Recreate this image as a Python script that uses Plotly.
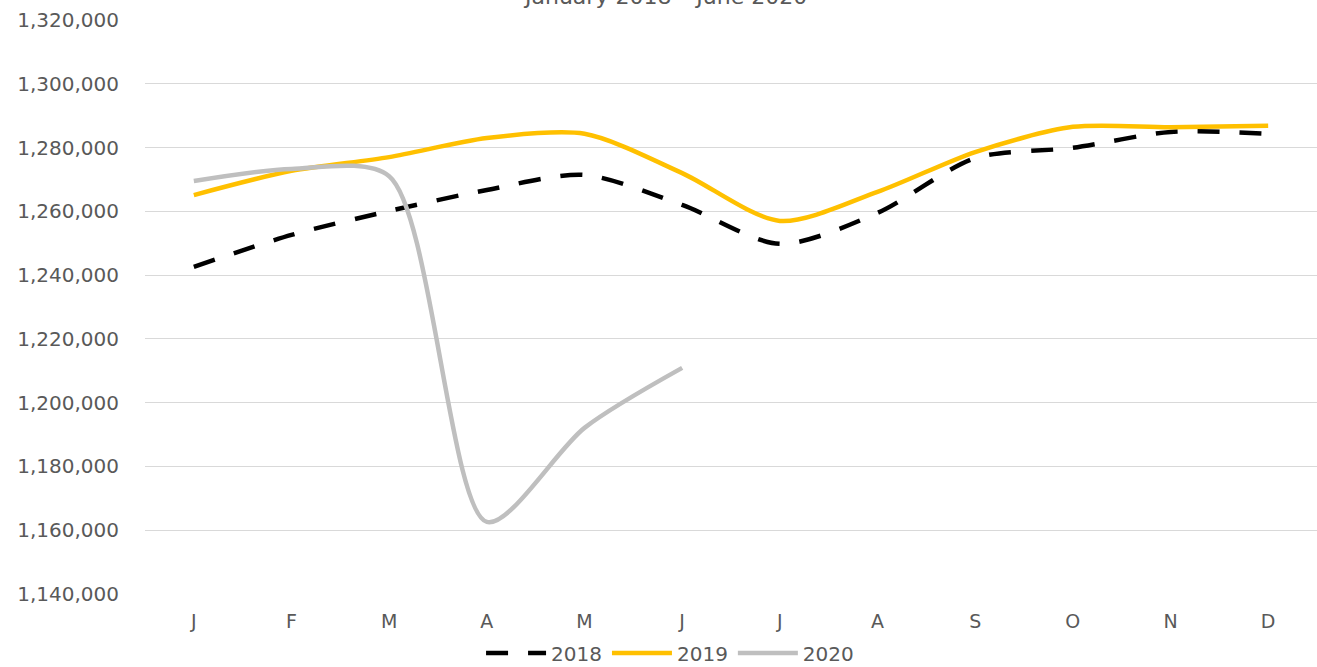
import plotly.graph_objects as go

months = ["J", "F", "M", "A", "M", "J", "J", "A", "S", "O", "N", "D"]
x_pos = list(range(12))

y2018 = [1242600, 1252600, 1260100, 1266700, 1271400, 1262000,
         1249800, 1259500, 1276700, 1279900, 1284900, 1284300]
y2019 = [1265100, 1272700, 1277000, 1283000, 1284300, 1272000,
         1257000, 1266100, 1278600, 1286500, 1286400, 1286800]
y2020 = [1269500, 1273300, 1271000, 1162600, 1192100, 1210900]

FONT = "DejaVu Sans, Open Sans, sans-serif"
GREY_TXT = "#595959"

fig = go.Figure()

# 2018 - ligne noire en tirets
fig.add_trace(go.Scatter(
    x=x_pos, y=y2018, name="2018", mode="lines",
    line=dict(color="#000000", width=4.5, dash="22px,20px", shape="spline", smoothing=0.8),
))
fig.add_trace(go.Scatter(
    x=x_pos, y=y2019, name="2019", mode="lines",
    line=dict(color="#FFC000", width=4.5, shape="spline", smoothing=0.8),
))
fig.add_trace(go.Scatter(
    x=x_pos[:len(y2020)], y=y2020, name="2020", mode="lines",
    line=dict(color="#BFBFBF", width=4.5, shape="spline", smoothing=0.8),
))

# titre coupé en haut, comme dans l'original
fig.add_annotation(
    text="January 2018 – June 2020", xref="paper", yref="paper",
    x=0.4437, y=1.0, yshift=9, xanchor="center", yanchor="bottom",
    showarrow=False, font=dict(size=22, color=GREY_TXT, family=FONT),
)

fig.update_layout(
    width=1317, height=667,
    paper_bgcolor="white", plot_bgcolor="white",
    font=dict(family=FONT, color=GREY_TXT),
    margin=dict(l=145, r=0, t=20, b=73, autoexpand=False),
    showlegend=True,
    legend=dict(
        orientation="h", xref="paper", x=0.448, xanchor="center",
        yref="container", y=0.021, yanchor="middle",
        font=dict(size=20, color=GREY_TXT), itemwidth=60,
        tracegroupgap=0,
    ),
    xaxis=dict(
        tickmode="array", tickvals=x_pos, ticktext=months,
        range=[-0.5, 11.5], showgrid=False, zeroline=False,
        showline=False, ticks="", tickfont=dict(size=19, color=GREY_TXT),
        ticklabelstandoff=14, automargin=False,
    ),
    yaxis=dict(
        range=[1140000, 1320000], dtick=20000, tickformat=",",
        showgrid=True, gridcolor="#D9D9D9", gridwidth=1,
        zeroline=False, showline=False, ticks="",
        tickfont=dict(size=20, color=GREY_TXT), ticklabelstandoff=25,
        automargin=False,
    ),
)

fig.write_html(
    "out.html",
    config={"displayModeBar": False},
    post_script="document.body.style.margin='0';document.body.style.overflow='hidden';",
)
